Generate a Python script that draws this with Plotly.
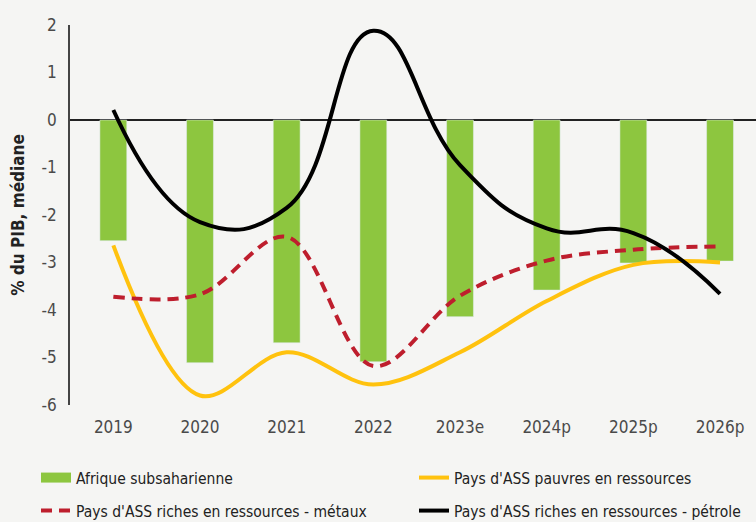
import plotly.graph_objects as go

categories = ["2019", "2020", "2021", "2022", "2023e", "2024p", "2025p", "2026p"]
afrique = [-2.54, -5.11, -4.69, -5.09, -4.14, -3.58, -3.01, -2.97]
pauvres = [-2.64, -5.80, -4.89, -5.57, -4.89, -3.81, -3.05, -3.00]
metaux = [-3.72, -3.67, -2.46, -5.18, -3.70, -2.96, -2.73, -2.66]
petrole = [0.21, -2.15, -1.85, 1.88, -0.95, -2.28, -2.38, -3.66]

ytick_vals = [2, 1, 0, -1, -2, -3, -4, -5, -6]
ytick_text = ["2", "1", "0", "-1", "-2", "-3", "-4", "-5", "-6"]

names = ["Afrique subsaharienne", "Pays d'ASS pauvres en ressources",
         "Pays d'ASS riches en ressources - métaux", "Pays d'ASS riches en ressources - pétrole"]

GREEN = "#8dc63f"
YELLOW = "#ffc20e"
RED = "#be1e2d"
BLACK = "#000000"
BG = "#f5f5f3"
FONT = "DejaVu Sans Condensed, DejaVu Sans, sans-serif"

fig = go.Figure()
fig.add_trace(go.Bar(x=categories, y=afrique, marker_color=GREEN, width=0.31,
                     name=names[0], showlegend=False, legendgroup="a"))
# legend entry for bars (wide rectangle)
fig.add_trace(go.Scatter(x=[None], y=[None], mode="lines", line=dict(color=GREEN, width=11),
                         name=names[0], legendgroup="a", legend="legend"))
fig.add_trace(go.Scatter(x=categories, y=pauvres, mode="lines", name=names[1], legend="legend2",
                         line=dict(color=YELLOW, width=4, shape="spline", smoothing=1.0)))
fig.add_trace(go.Scatter(x=categories, y=metaux, mode="lines", name=names[2], legend="legend3",
                         line=dict(color=RED, width=4, shape="spline", smoothing=1.0, dash="11px,7px")))
fig.add_trace(go.Scatter(x=categories, y=petrole, mode="lines", name=names[3], legend="legend4",
                         line=dict(color=BLACK, width=4, shape="spline", smoothing=1.3)))


def leg(x, y):
    return dict(orientation="v", x=x, y=y, xanchor="left", yanchor="middle",
                font=dict(family=FONT, size=15.5, color="#222222"),
                bgcolor="rgba(0,0,0,0)")


col1 = (36 - 70) / 686
col2 = (414 - 70) / 686
row1 = (405 - 478) / 380
row2 = (405 - 511) / 380

fig.update_layout(
    width=756, height=522,
    margin=dict(l=70, r=0, t=25, b=117, autoexpand=False),
    paper_bgcolor=BG, plot_bgcolor=BG,
    font=dict(family=FONT, size=17, color="#333333"),
    showlegend=True,
    legend=leg(col1, row1),
    legend2=leg(col2, row1),
    legend3=leg(col1, row2),
    legend4=leg(col2, row2),
    xaxis=dict(type="category", range=[-0.5, 7.415], showline=False, showgrid=False,
               ticks="", ticklabelstandoff=10, tickfont=dict(size=17, color="#4a4a4a")),
    yaxis=dict(range=[-6, 2], tickvals=ytick_vals, ticktext=ytick_text, showgrid=False,
               showline=True, linecolor="#444444",
               linewidth=1.5, zeroline=True, zerolinecolor="#222222", zerolinewidth=1.5,
               ticks="", ticklabelstandoff=8, tickfont=dict(size=17, color="#4a4a4a"),
               title=dict(text="<b>% du PIB, médiane</b>", standoff=13,
                          font=dict(size=17, color="#222222"))),
)

fig.write_html("out.html", config={"displayModeBar": False},
               post_script="document.body.style.margin='0';document.body.style.background='%s';" % BG)
